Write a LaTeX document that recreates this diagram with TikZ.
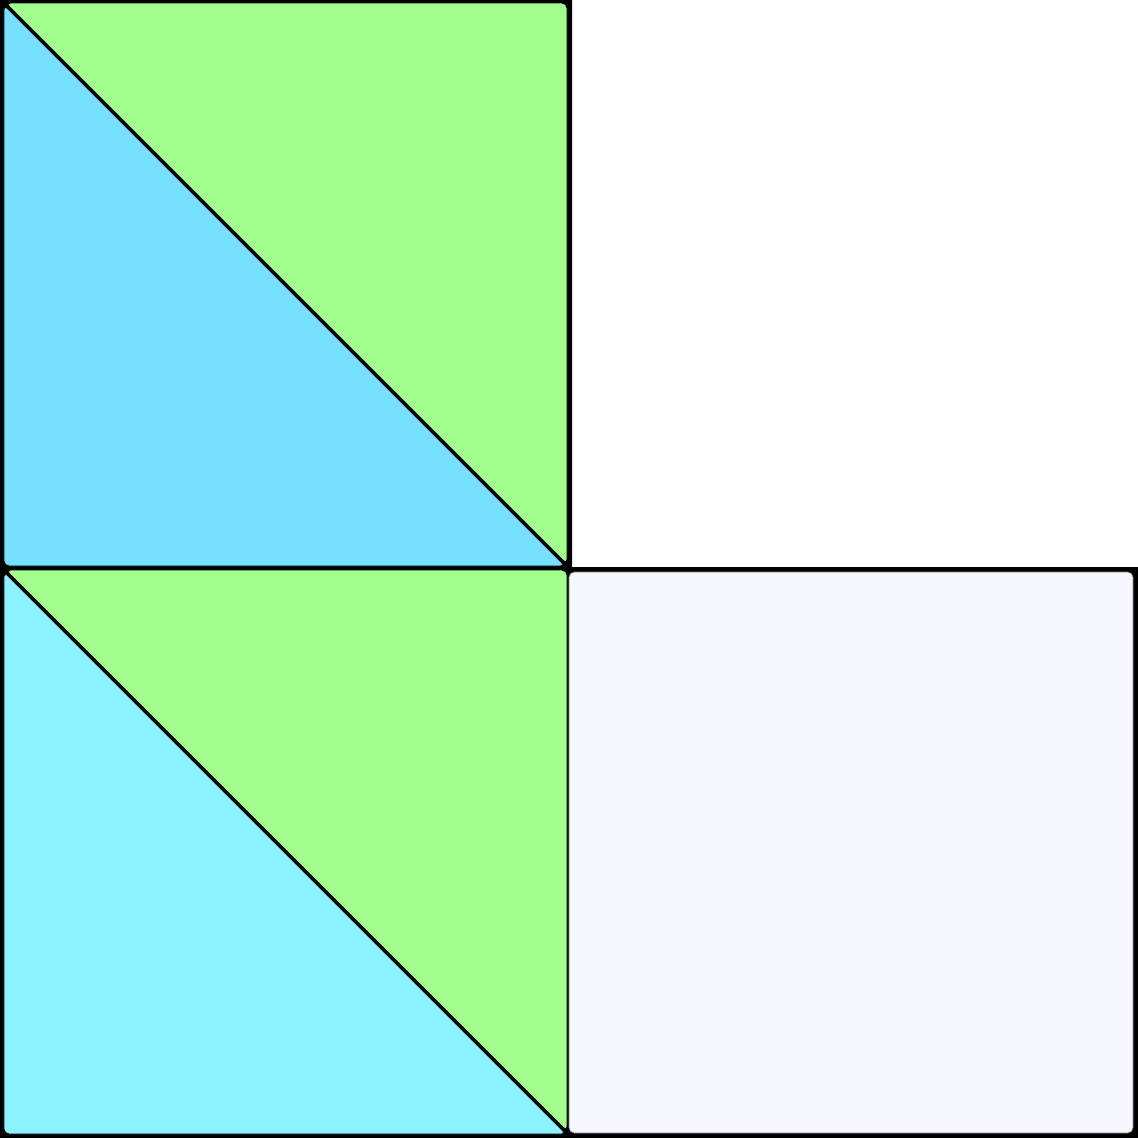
\documentclass[tikz,border=0pt]{standalone}
\usepackage{tikz}
\definecolor{leafgreen}{HTML}{A2FF8E}
\definecolor{skyblue}{HTML}{77E0FF}
\definecolor{paleaqua}{HTML}{8CF2FF}
\definecolor{lavend}{HTML}{F6F6FE}
\tikzset{piece/.style={rounded corners=1.5, draw=black, line width=0.2pt}}
\begin{document}
\begin{tikzpicture}[x=0.1mm,y=-0.1mm]
\useasboundingbox (0,0) rectangle (1138,1138);
% black L-shaped backing
\fill[black] (0,0)--(572,0)--(572,567)--(1138,567)--(1138,1138)--(0,1138)--cycle;
% top square
\fill[piece,fill=leafgreen] (6,3)--(567,3)--(567,564)--cycle;
\fill[piece,fill=skyblue] (4,5)--(4,566)--(565,566)--cycle;
% bottom square
\fill[piece,fill=leafgreen] (6,570)--(567,570)--(567,1131)--cycle;
\fill[piece,fill=paleaqua] (4,572)--(4,1134)--(566,1134)--cycle;
% right square
\fill[piece,fill=lavend,draw=gray] (569,572) rectangle (1133,1133);
\end{tikzpicture}
\end{document}
